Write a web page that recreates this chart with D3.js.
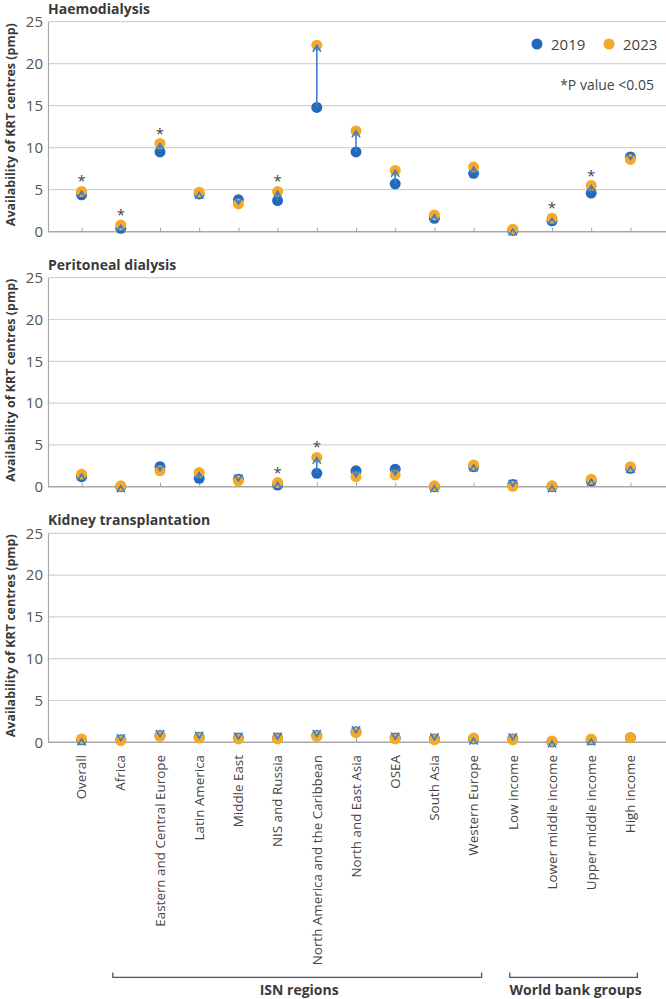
<!DOCTYPE html>
<html>
<head>
<meta charset="utf-8">
<script src="https://cdn.jsdelivr.net/npm/d3@7"></script>
<style>
  body { margin: 0; background: #fff; }
  svg { font-family: "Open Sans", sans-serif; }
</style>
</head>
<body>
<div id="chart"></div>
<script>
// Chart data
var categories = ["Overall", "Africa", "Eastern and Central Europe", "Latin America",
  "Middle East", "NIS and Russia", "North America and the Caribbean", "North and East Asia",
  "OSEA", "South Asia", "Western Europe", "Low income", "Lower middle income",
  "Upper middle income", "High income"];

var hd2019 = [4.4, 0.4, 9.5, 4.5, 3.8, 3.7, 14.8, 9.5, 5.7, 1.6, 6.95, 0.15, 1.3, 4.6, 8.9];
var hd2023 = [4.8, 0.8, 10.5, 4.7, 3.3, 4.8, 22.2, 12.0, 7.3, 2.0, 7.7, 0.3, 1.6, 5.5, 8.6];
var hdSig = ["Overall", "Africa", "Eastern and Central Europe", "NIS and Russia",
  "Lower middle income", "Upper middle income"];

var pd2019 = [1.2, 0.0, 2.4, 1.0, 0.9, 0.2, 1.6, 1.9, 2.1, 0.0, 2.4, 0.25, 0.0, 0.7, 2.2];
var pd2023 = [1.5, 0.1, 1.9, 1.7, 0.7, 0.5, 3.5, 1.2, 1.4, 0.1, 2.6, 0.05, 0.1, 0.9, 2.4];
var pdSig = ["NIS and Russia", "North America and the Caribbean"];

var kt2019 = [0.3, 0.3, 0.8, 0.6, 0.5, 0.5, 0.8, 1.25, 0.5, 0.4, 0.4, 0.4, 0.05, 0.3, 0.55];
var kt2023 = [0.4, 0.2, 0.7, 0.5, 0.4, 0.4, 0.7, 1.15, 0.4, 0.3, 0.5, 0.3, 0.15, 0.4, 0.55];
var ktSig = [];

var yTicks = [0, 5, 10, 15, 20, 25];
var seriesNames = ["2019", "2023"];

var panels = [
  { title: "Haemodialysis", v19: hd2019, v23: hd2023, sig: hdSig, top: 21.7, bottom: 231.7 },
  { title: "Peritoneal dialysis", v19: pd2019, v23: pd2023, sig: pdSig, top: 277.7, bottom: 486.7 },
  { title: "Kidney transplantation", v19: kt2019, v23: kt2023, sig: ktSig, top: 533.3, bottom: 742.3 }
];

var groups = [
  { label: "ISN regions", from: "Africa", to: "Western Europe", padL: 8, padR: 8 },
  { label: "World bank groups", from: "Low income", to: "High income", padL: 3, padR: 7 }
];

var blue = "#2169bd";
var lineBlue = "#3b7fcc";
var yellow = "#f6a927";
var svgWidth = 666;
var svgHeight = 999;
var plotLeft = 48;
var plotRight = 666;

var svg = d3.select("#chart")
  .append("svg")
  .attr("width", svgWidth)
  .attr("height", svgHeight);

var x = d3.scalePoint()
  .domain(categories)
  .range([plotLeft, 664])
  .padding(0.857);

panels.forEach(function(p) {
  var y = d3.scaleLinear().domain([0, 25]).range([p.bottom, p.top]);
  var g = svg.append("g");

  // gridlines
  g.selectAll("line.grid")
    .data(yTicks.filter(d => d > 0))
    .enter()
    .append("line")
    .attr("x1", plotLeft)
    .attr("x2", plotRight)
    .attr("y1", d => y(d))
    .attr("y2", d => y(d))
    .attr("stroke", "#d2d2d2")
    .attr("stroke-width", 1.2);

  // y axis
  var leftAxis = d3.axisLeft(y).tickValues(yTicks).tickSize(0).tickPadding(5);
  var yAxis = g.append("g")
    .attr("transform", `translate(${plotLeft}, 0)`)
    .call(leftAxis);
  yAxis.select(".domain").attr("stroke", "#a8a8a8").attr("stroke-width", 1.2);
  yAxis.selectAll("text")
    .attr("font-size", 15)
    .attr("font-family", "Open Sans")
    .attr("fill", "#555");

  // baseline x axis with inner ticks
  var bottomAxis = d3.axisBottom(x).tickSize(-4).tickFormat("");
  var xAxis = g.append("g")
    .attr("transform", `translate(0, ${p.bottom})`)
    .call(bottomAxis);
  xAxis.select(".domain")
    .attr("d", `M${plotLeft},0H${plotRight}`)
    .attr("stroke", "#a8a8a8")
    .attr("stroke-width", 1.5);
  xAxis.selectAll(".tick line").attr("stroke", "#a0a0a0");

  // panel title
  g.append("text")
    .attr("x", plotLeft)
    .attr("y", p.top - 8)
    .attr("font-size", 14)
    .attr("font-weight", "bold")
    .attr("fill", "#3a3a3a")
    .text(p.title);

  // y axis title
  g.append("text")
    .attr("transform", `translate(15, ${(p.top + p.bottom) / 2 - 2}) rotate(-90)`)
    .attr("text-anchor", "middle")
    .attr("font-size", 12.5)
    .attr("font-weight", "bold")
    .attr("fill", "#3a3a3a")
    .text("Availability of KRT centres (pmp)");

  var rows = categories.map((c, i) => ({ cat: c, a: p.v19[i], b: p.v23[i] }));

  // 2019 dots
  g.selectAll("circle.y19")
    .data(rows)
    .enter()
    .append("circle")
    .attr("cx", d => x(d.cat))
    .attr("cy", d => y(d.a))
    .attr("r", 5.5)
    .attr("fill", blue);

  // 2023 dots
  g.selectAll("circle.y23")
    .data(rows)
    .enter()
    .append("circle")
    .attr("cx", d => x(d.cat))
    .attr("cy", d => y(d.b))
    .attr("r", 5.5)
    .attr("fill", yellow);

  // change arrows
  var moved = rows.filter(d => d.a != d.b);
  g.selectAll("line.arrow")
    .data(moved)
    .enter()
    .append("line")
    .attr("x1", d => x(d.cat))
    .attr("x2", d => x(d.cat))
    .attr("y1", d => y(d.a))
    .attr("y2", d => y(d.b))
    .attr("stroke", lineBlue)
    .attr("stroke-width", 1.6);

  g.selectAll("path.head")
    .data(moved)
    .enter()
    .append("path")
    .attr("d", function(d) {
      var cx = x(d.cat), tip = y(d.b);
      var dir = d.b > d.a ? 1 : -1;
      return `M${cx - 4},${tip + dir * 6.5}L${cx},${tip}L${cx + 4},${tip + dir * 6.5}`;
    })
    .attr("fill", "none")
    .attr("stroke", lineBlue)
    .attr("stroke-width", 1.6);

  // significance stars
  g.selectAll("text.star")
    .data(rows.filter(d => p.sig.includes(d.cat)))
    .enter()
    .append("text")
    .attr("x", d => x(d.cat))
    .attr("y", d => y(Math.max(d.a, d.b)) - 5)
    .attr("text-anchor", "middle")
    .attr("font-size", 15)
    .attr("fill", "#444")
    .text("*");
});

// category labels
svg.append("g")
  .selectAll("text")
  .data(categories)
  .enter()
  .append("text")
  .attr("transform", d => `translate(${x(d)}, 755) rotate(-90)`)
  .attr("text-anchor", "end")
  .attr("dy", "0.35em")
  .attr("font-size", 13.4)
  .attr("fill", "#444")
  .text(d => d);

// group brackets
groups.forEach(function(gr) {
  var x1 = x(gr.from) - gr.padL;
  var x2 = x(gr.to) + gr.padR;
  svg.append("path")
    .attr("d", `M${x1},972.5V977.3H${x2}V972.5`)
    .attr("fill", "none")
    .attr("stroke", "#555")
    .attr("stroke-width", 1.3);
  svg.append("text")
    .attr("x", (x1 + x2) / 2 + 2)
    .attr("y", 995)
    .attr("text-anchor", "middle")
    .attr("font-size", 14)
    .attr("font-weight", "bold")
    .attr("fill", "#3a3a3a")
    .text(gr.label);
});

// legend
var legend = svg.append("g");
var legendX = [537, 609];
seriesNames.forEach(function(name, i) {
  legend.append("circle")
    .attr("cx", legendX[i])
    .attr("cy", 44)
    .attr("r", 5.5)
    .attr("fill", i == 0 ? blue : yellow);
  legend.append("text")
    .attr("x", legendX[i] + 14)
    .attr("y", 49.5)
    .attr("font-size", 15)
    .attr("fill", "#444")
    .text(name);
});
legend.append("text")
  .attr("x", 654)
  .attr("y", 90)
  .attr("text-anchor", "end")
  .attr("font-size", 14)
  .attr("fill", "#444")
  .text("*P value <0.05");
</script>
</body>
</html>
